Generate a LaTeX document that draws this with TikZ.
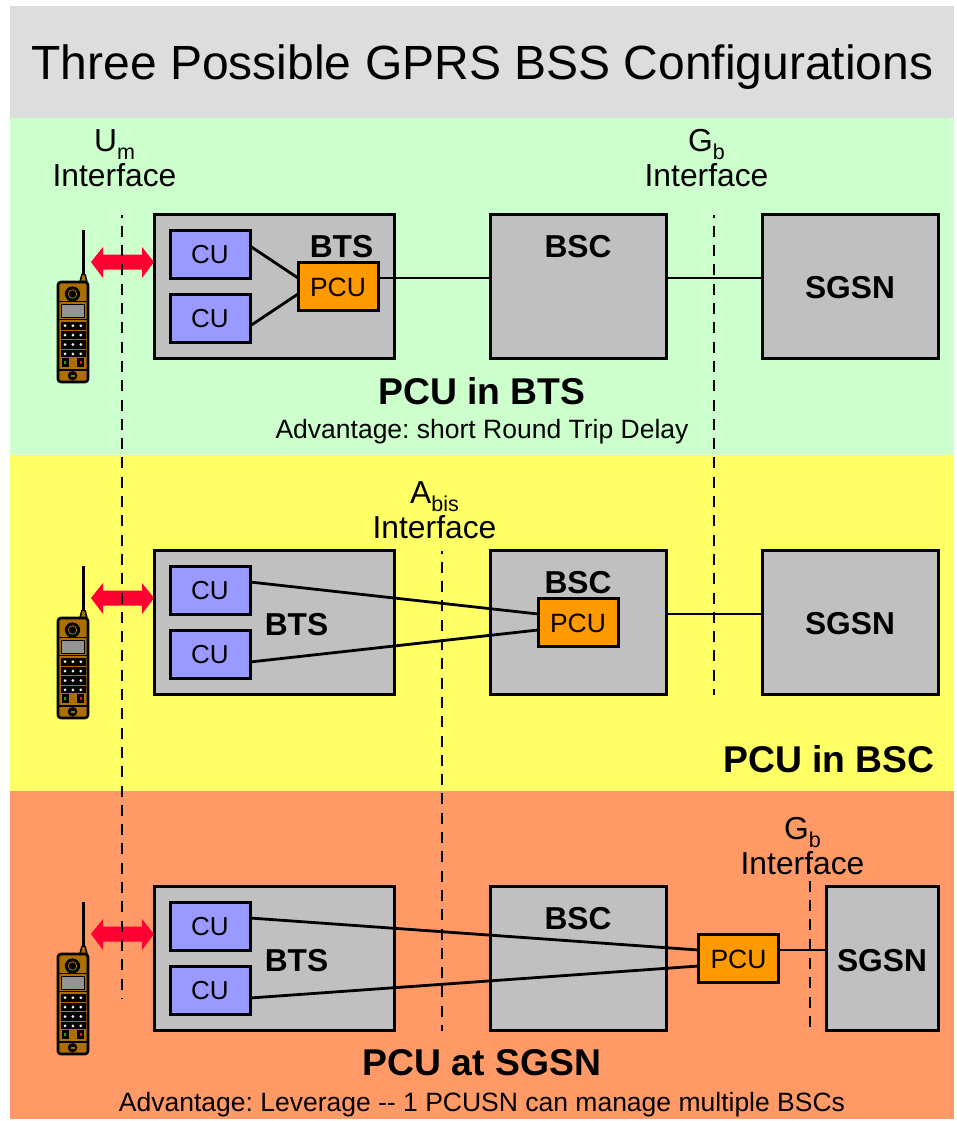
\documentclass[tikz,border=0pt]{standalone}
\usepackage{fontspec}
\setmainfont{Liberation Sans}
\frenchspacing
\definecolor{boxgrey}{HTML}{C0C0C0}
\definecolor{cublue}{HTML}{9999FF}
\definecolor{pcuor}{HTML}{FF9900}
\definecolor{greenband}{HTML}{CCFFCC}
\definecolor{yellowband}{HTML}{FFFF66}
\definecolor{orangeband}{HTML}{FF9966}
\definecolor{titleband}{HTML}{DDDDDD}
\definecolor{arrowred}{HTML}{FF0033}
\definecolor{phonebrown}{HTML}{AD6F00}
\tikzset{
  x=1pt,y=-1pt,
  box/.style={draw=black,line width=3pt,fill=boxgrey,minimum width=#1,inner sep=0pt,outer sep=0pt},
  cu/.style={draw=black,line width=3pt,fill=cublue,minimum width=80pt,minimum height=48pt,inner sep=0pt,outer sep=0pt,font=\fontsize{26}{26}\selectfont},
  pcu/.style={draw=black,line width=3pt,fill=pcuor,minimum width=80pt,minimum height=48pt,inner sep=0pt,outer sep=0pt,font=\fontsize{26.5}{26.5}\selectfont},
  lbl/.style={font=\bfseries\fontsize{31.7}{32}\selectfont,inner sep=0pt},
  head/.style={font=\bfseries\fontsize{37.3}{37}\selectfont,inner sep=0pt},
  note/.style={font=\fontsize{26.5}{26}\selectfont,inner sep=0pt},
  iface/.style={font=\fontsize{31.8}{35}\selectfont,inner sep=0pt,align=center},
  link/.style={draw=black,line width=2.8pt},
  dash line/.style={draw=black,line width=2.8pt,dash pattern=on 11pt off 8.3pt,dash phase=8.5pt},
  redarrow/.style={fill=arrowred,draw=none}
}
\newcommand{\subtxt}[1]{\raisebox{-.25em}[0pt][0pt]{\fontsize{21.5}{21}\selectfont #1}}
\newcommand{\myphone}[1]{%
\begin{scope}[yshift=-#1pt]
  \draw[line width=2.4pt] (83.3,230) -- (83.3,274);
  \fill[phonebrown,draw=black,line width=1.5pt,rounded corners=1pt] (80,282) -- (82,274) -- (85,274) -- (87,282) -- cycle;
  \draw[fill=phonebrown,line width=2.6pt,rounded corners=3pt] (58,282) rectangle (88,382);
  \draw[line width=1.4pt] (58,301.5) -- (88,301.5);
  \draw[line width=1.4pt] (58,319.5) -- (88,319.5);
  \draw[line width=1.4pt] (58,370) -- (88,370);
  \draw[line width=1.2pt,fill=black] (72.5,294) circle (7pt);
  \draw[draw=phonebrown,fill=black,line width=.8pt] (72.5,294) circle (4.2pt);
  \fill[fill=black!42!white,draw=black,line width=1pt] (61.5,304.5) rectangle (84.5,317.5);
  \fill[black] (60.7,321.5) rectangle (85.7,357);
  \foreach \r in {0,1,2}{
    \fill[phonebrown] (60.7,330.3+9.4*\r-.4) rectangle (85.7,330.3+9.4*\r+.4);
  }
  \foreach \r in {0,1,2,3}{
    \foreach \c in {0,1,2}{\fill[white] (65+7.9*\c,325.7+9.4*\r) circle (1.5pt);}
  }
  \fill[black] (61.5,358) rectangle (69,367);
  \fill[black] (76.7,358) rectangle (84.3,367);
  \fill[green!70!black] (64,361) rectangle (66,363.5);
  \fill[arrowred] (79.7,361) rectangle (81.7,363.5);
  \draw[fill=black] (72.5,375.7) circle (4.5pt);
  \fill[phonebrown] (70.5,375) rectangle (74.5,376.5);
  \fill[redarrow] (91,262) -- (103,247) -- (103,254.5) -- (142,254.5) -- (142,247) -- (154,262) -- (142,278) -- (142,269.5) -- (103,269.5) -- (103,278) -- cycle;
\end{scope}}
\newcommand{\lowtxt}[1]{\raisebox{-1pt}[\height][\depth]{#1}}
\begin{document}
\begin{tikzpicture}
\useasboundingbox (0,0) rectangle (956,1121);
\fill[white] (0,0) rectangle (956,1121);
\fill[titleband] (10,6) rectangle (954,118);
\fill[greenband] (10,118) rectangle (954,455);
\fill[yellowband] (10,455) rectangle (954,791);
\fill[orangeband] (10,791) rectangle (954,1119);
\node[inner sep=0pt,font=\fontsize{48}{48}\selectfont] (title) at (482.5,67.5) {Three Possible GPRS BSS Configurations};
% dashed interface lines
\coordinate (um1) at (122,215); \coordinate (um2) at (122,998);
\coordinate (gb1) at (714,215); \coordinate (gb2) at (714,695);
\coordinate (ab1) at (442,551); \coordinate (ab2) at (442,1031);
\coordinate (gc1) at (810,870); \coordinate (gc2) at (810,1031);
% row 1
\node[box=240pt,minimum height=144pt] (bts1) at (274,286) {};
\node[box=176pt,minimum height=144pt] (bsc1) at (578,286) {};
\node[box=176pt,minimum height=144pt] (sgsn1) at (850,286) {};
\node[cu] (cu1a) at (210,254) {\lowtxt{CU}};
\node[cu] (cu1b) at (210,318) {\lowtxt{CU}};
\node[pcu] (pcu1) at (338,286) {\lowtxt{PCU}};
\node[lbl] (btsl1) at (341.5,246.5) {BTS};
\node[lbl] (bscl1) at (578,246.5) {BSC};
\node[lbl] (sgsnl1) at (850,287.5) {SGSN};
\draw[link] ([yshift=8pt]cu1a.east) -- ([yshift=8pt]pcu1.west);
\draw[link] ([yshift=-8pt]cu1b.east) -- ([yshift=-8pt]pcu1.west);
\draw[link] ([yshift=8pt]pcu1.east) -- ([yshift=8pt]bsc1.west);
\draw[link] ([yshift=8pt]bsc1.east) -- ([yshift=8pt]sgsn1.west);
\node[head] (h1) at (482,391) {PCU in BTS};
\node[note] (n1) at (482,432) {Advantage: short Round Trip Delay};
% row 2
\node[box=240pt,minimum height=144pt] (bts2) at (274,622) {};
\node[box=176pt,minimum height=144pt] (bsc2) at (578,622) {};
\node[box=176pt,minimum height=144pt] (sgsn2) at (850,622) {};
\node[cu] (cu2a) at (210,590) {\lowtxt{CU}};
\node[cu] (cu2b) at (210,654) {\lowtxt{CU}};
\node[pcu] (pcu2) at (578,622) {\lowtxt{PCU}};
\node[lbl] (btsl2) at (296.5,624.5) {BTS};
\node[lbl] (bscl2) at (578,582.5) {BSC};
\node[lbl] (sgsnl2) at (850,623.5) {SGSN};
\draw[link] ([yshift=8pt]cu2a.east) -- ([yshift=8pt]pcu2.west);
\draw[link] ([yshift=-8pt]cu2b.east) -- ([yshift=-8pt]pcu2.west);
\draw[link] ([yshift=8pt]bsc2.east) -- ([yshift=8pt]sgsn2.west);
\node[head] (h2) at (829,759) {PCU in BSC};
% row 3
\node[box=240pt,minimum height=144pt] (bts3) at (274,958) {};
\node[box=176pt,minimum height=144pt] (bsc3) at (578,958) {};
\node[box=112pt,minimum height=144pt] (sgsn3) at (882,958) {};
\node[cu] (cu3a) at (210,926) {\lowtxt{CU}};
\node[cu] (cu3b) at (210,990) {\lowtxt{CU}};
\node[lbl] (btsl3) at (296.5,960.5) {BTS};
\node[lbl] (bscl3) at (578,918.5) {BSC};
\node[lbl] (sgsnl3) at (882,960.5) {SGSN};
\node[pcu] (pcu3) at (738.5,958) {\lowtxt{PCU}};
\draw[link] ([yshift=8pt]cu3a.east) -- ([yshift=8pt]pcu3.west);
\draw[link] ([yshift=-8pt]cu3b.east) -- ([yshift=-8pt]pcu3.west);
\draw[link] ([yshift=8pt]pcu3.east) -- ([yshift=8pt]sgsn3.west);
\node[head] (h3) at (482,1063) {PCU at SGSN};
\node[note] (n3) at (482,1105) {Advantage: Leverage {-}{-} 1 PCUSN can manage multiple BSCs};
% phones
\myphone{0}
\myphone{336}
\myphone{672}
\draw[dash line] (um1) -- (um2);
\draw[dash line] (gb1) -- (gb2);
\draw[dash line] (ab1) -- (ab2);
\draw[dash line] (gc1) -- (gc2);
% interface labels
\node[iface] (i1) at (114.5,158.5) {U\subtxt{m}\\Interface};
\node[iface] (i2) at (706.5,158.5) {G\subtxt{b}\\Interface};
\node[iface] (i3) at (434.5,510.5) {A\subtxt{bis}\\Interface};
\node[iface] (i4) at (802.5,846.5) {G\subtxt{b}\\Interface};
\end{tikzpicture}
\end{document}
